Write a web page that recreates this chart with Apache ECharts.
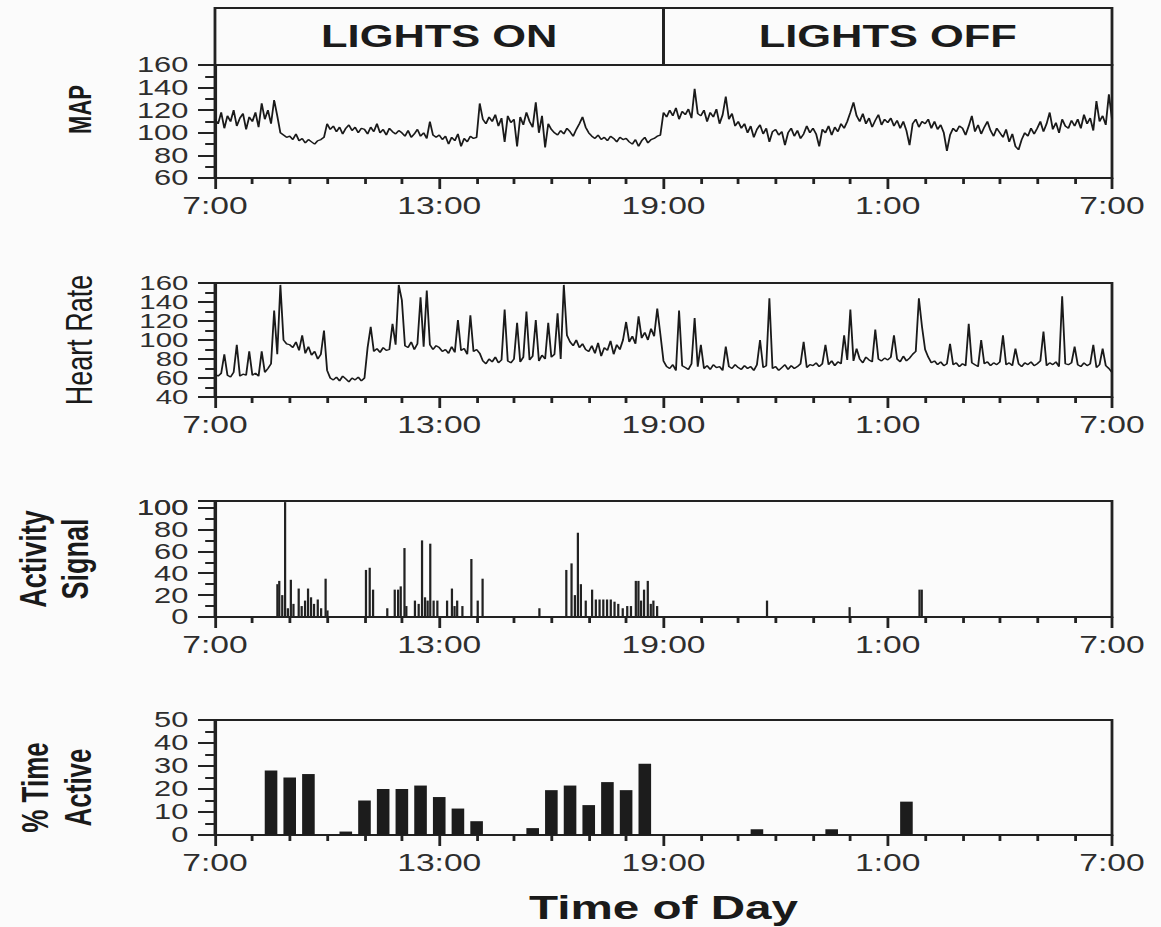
<!DOCTYPE html>
<html>
<head>
<meta charset="utf-8">
<script src="https://cdn.jsdelivr.net/npm/echarts@6/dist/echarts.min.js"></script>
<style>
html,body{margin:0;padding:0;background:#fbfbfb;overflow:hidden;}
#chart{width:829px;height:927px;transform:scaleX(1.4005);transform-origin:0 0;}
</style>
</head>
<body>
<div id="chart"></div>
<script>
// ---------- data ----------
const timeTickLabels = ['7:00', '13:00', '19:00', '1:00', '7:00']; // hours 0,6,12,18,24 after 7:00
const lightPeriods = ['LIGHTS ON', 'LIGHTS OFF'];
const lightBounds = [0, 12, 24];
const mapTicks = [60, 80, 100, 120, 140, 160];
const hrTicks = [40, 60, 80, 100, 120, 140, 160];
const activityTicks = [0, 20, 40, 60, 80, 100];
const pctTicks = [0, 10, 20, 30, 40, 50];
const sampleMinutes = 5;

// MAP, one row per hour (5-min samples), starting 7:00
const mapValues = [
  112,108,118,104,115,110,120,106,113,117,103,114,
  110,118,105,126,112,120,108,129,115,100,98,96,
  97,94,99,93,95,91,94,92,90,93,94,96,
  108,103,106,101,105,99,104,107,102,105,100,104,
  103,99,105,101,108,100,103,98,104,101,99,102,
  100,97,102,96,99,103,97,100,95,110,98,96,
  98,94,97,90,96,93,99,88,95,92,97,95,
  96,126,112,108,114,110,116,106,113,92,115,109,
  112,88,114,107,118,110,105,127,100,115,87,108,
  103,100,98,102,99,104,101,97,103,108,114,105,
  100,97,95,98,94,96,93,97,95,92,96,94,
  95,92,90,94,88,93,96,91,94,95,97,98,
  118,114,120,115,122,112,119,116,121,113,139,117,
  115,120,110,118,114,121,108,116,132,112,117,106,
  110,104,108,100,106,96,103,107,99,104,92,101,
  103,98,101,89,100,104,97,102,95,99,106,100,
  104,99,88,103,100,106,98,105,101,108,104,110,
  118,127,115,110,117,108,113,105,111,116,107,112,
  109,113,106,111,104,110,102,89,108,112,105,110,
  108,112,104,110,103,107,100,84,98,104,101,106,
  104,98,106,115,101,107,99,105,110,102,97,104,
  100,96,103,92,99,88,85,94,100,97,104,99,
  104,110,101,108,118,103,109,100,112,106,104,111,
  106,112,104,116,108,113,102,128,110,115,107,134,
  112
];

// Heart rate, one row per hour (5-min samples), starting 7:00
const heartRateValues = [
  64,62,65,85,63,61,66,95,62,64,63,88,
  63,65,62,88,66,70,75,131,85,158,100,96,
  95,92,98,89,105,86,93,84,88,80,85,110,
  68,60,58,61,57,62,59,56,60,58,61,57,
  60,92,114,88,91,87,92,89,90,117,95,158,
  142,94,92,98,90,96,145,93,152,95,90,94,
  92,88,90,86,93,87,121,89,91,85,126,88,
  90,86,78,75,80,77,82,76,79,132,78,76,
  80,118,77,82,130,79,83,121,78,84,80,118,
  82,85,128,80,158,105,98,94,100,92,96,90,
  88,94,86,97,83,92,89,99,85,95,90,100,
  119,98,104,96,125,102,108,100,112,104,133,106,
  78,72,70,74,68,131,73,71,69,75,123,72,
  95,70,73,69,74,71,72,68,93,72,70,74,
  71,69,73,70,72,68,74,100,71,73,144,70,
  72,68,71,74,69,73,70,72,75,98,71,74,
  73,76,72,75,95,74,78,73,77,75,105,79,
  132,78,91,80,76,82,79,77,111,80,78,81,
  79,82,105,80,77,83,78,81,85,88,144,114,
  90,82,76,78,74,77,73,75,96,74,76,72,
  75,73,117,76,74,72,100,75,77,73,76,74,
  77,105,74,76,73,91,75,72,76,74,77,73,
  75,78,109,73,76,74,77,72,146,75,74,76,
  93,74,72,76,73,75,95,71,74,91,73,70,
  66
];

// Activity signal bursts: hours after 7:00 and amplitude
const activityTimes = [
  1.67,1.72,1.80,1.876,1.95,2.03,2.10,2.24,2.32,2.41,2.49,2.57,2.65,2.75,2.84,2.96,3.01,
  4.04,4.14,4.23,4.61,4.81,4.90,4.97,5.07,5.12,5.35,5.45,5.54,5.62,5.69,5.76,5.85,5.95,
  6.21,6.34,6.41,6.48,6.62,6.86,7.03,7.16,8.68,
  9.40,9.54,9.63,9.71,9.79,9.92,10.09,10.19,10.29,10.39,10.49,10.59,10.69,10.79,10.91,
  11.03,11.13,11.26,11.33,11.40,11.48,11.58,11.66,11.73,11.83,
  14.77,16.98,18.85,18.91
];
const activityValues = [
  30,33,20,105,8,34,12,26,10,15,26,18,12,16,8,35,6,
  43,45,25,8,25,25,28,63,10,15,12,70,18,15,67,15,15,
  15,26,10,15,10,53,15,35,8,
  43,49,20,77,30,15,25,16,16,16,16,16,14,12,8,
  10,10,33,33,15,25,33,12,15,10,
  15,9,25,25
];

// % time active, half-hour bins (hours after 7:00)
const pctTimes = [1.5,2.0,2.5,3.5,4.0,4.5,5.0,5.5,6.0,6.5,7.0,8.5,9.0,9.5,10.0,10.5,11.0,11.5,14.5,16.5,18.5];
const pctValues = [28,25,26.5,1.5,15,20,20,21.5,16.5,11.5,6,3,19.5,21.5,13,23,19.5,31,2.5,2.5,14.5];

// ---------- chart ----------
const FONT = "'Liberation Sans', Arial, Helvetica, sans-serif";
const INK = '#222';
const toPairs = vals => vals.map((v, i) => [i * sampleMinutes / 60, v]);
const zip = (xs, ys) => xs.map((x, i) => [x, ys[i]]);

const gridLeft = 153.5, gridWidth = 640.5;
const panels = [
  { top: 65, height: 113 },
  { top: 283, height: 114 },
  { top: 501, height: 116 },
  { top: 720, height: 115 }
];

const grids = [{ left: gridLeft, width: gridWidth, top: 8, height: 57, show: false, outerBoundsMode: 'none' }]
  .concat(panels.map(p => ({
    left: gridLeft, width: gridWidth, top: p.top, height: p.height,
    show: true, borderColor: INK, borderWidth: 2, backgroundColor: 'transparent',
    outerBoundsMode: 'none', containLabel: false
  })));

const labelStyle = { fontSize: 22, lineHeight: 18, color: '#2e2e2e', fontFamily: FONT, margin: 19, interval: 0, hideOverlap: false };

function xAxisFor(g, extra) {
  return Object.assign({
    type: 'value', gridIndex: g, min: 0, max: 24, interval: 6,
    axisLine: { show: true, onZero: false, lineStyle: { color: INK, width: 2 } },
    axisTick: { show: true, length: 11, lineStyle: { color: INK, width: 2 } },
    minorTick: { show: true, splitNumber: 6, length: 6, lineStyle: { color: INK, width: 2 } },
    splitLine: { show: false }, minorSplitLine: { show: false },
    axisLabel: {
      fontSize: 24, color: '#2e2e2e', fontFamily: FONT, margin: 16, interval: 0,
      showMinLabel: true, showMaxLabel: true, hideOverlap: false,
      formatter: v => { const i = Math.round(v / 6); return Math.abs(v - i * 6) < 1e-6 ? (timeTickLabels[i] || '') : ''; }
    }
  }, extra || {});
}

// main y axis: interior tick labels, ticks, minor ticks, name
function yAxisFor(g, min, max, interval, ticks, name, nameGap, nts, fs) {
  return {
    type: 'value', gridIndex: g, position: 'left', min: min, max: max, interval: interval,
    axisLine: { show: true, onZero: false, lineStyle: { color: INK, width: 2 } },
    axisTick: { show: true, length: 12, lineStyle: { color: INK, width: 2 } },
    minorTick: { show: true, splitNumber: 2, length: 7, lineStyle: { color: INK, width: 2 } },
    splitLine: { show: false }, minorSplitLine: { show: false },
    axisLabel: Object.assign({}, labelStyle, {
      fontSize: fs || labelStyle.fontSize,
      showMinLabel: false, showMaxLabel: false,
      formatter: v => ticks.includes(v) ? String(v) : ''
    }),
    name: name, nameLocation: 'middle', nameRotate: 90, nameGap: nameGap, nameMoveOverlap: false,
    nameTextStyle: Object.assign({ fontFamily: FONT, color: '#1a1a1a' }, nts)
  };
}

// companion y axis on the same grid: end-of-range labels and major ticks
function yEdgeAxisFor(g, min, max, interval, ticks, fs) {
  const ends = [ticks[0], ticks[ticks.length - 1]];
  return {
    type: 'value', gridIndex: g, position: 'left', offset: 0, min: min, max: max, interval: interval,
    axisLine: { show: false },
    axisTick: { show: true, length: 12, lineStyle: { color: INK, width: 2 } },
    minorTick: { show: false },
    splitLine: { show: false }, minorSplitLine: { show: false },
    axisLabel: Object.assign({}, labelStyle, {
      fontSize: fs || labelStyle.fontSize,
      showMinLabel: true, showMaxLabel: true,
      formatter: v => ends.includes(v) ? String(v) : ''
    })
  };
}

const yCfg = [
  [1, 60, 160, 20, mapTicks, 22],
  [2, 40, 160, 20, hrTicks, 21],
  [3, 0, 106, 20, activityTicks, 22],
  [4, 0, 50, 10, pctTicks, 22]
];

const option = {
  animation: false,
  backgroundColor: '#fbfbfb',
  grid: grids,
  xAxis: [
    { type: 'value', gridIndex: 0, min: 0, max: 24, show: false },
    xAxisFor(1), xAxisFor(2), xAxisFor(3),
    xAxisFor(4, {
      name: 'Time of Day', nameLocation: 'middle', nameGap: 55, nameMoveOverlap: false,
      nameTextStyle: { fontFamily: FONT, fontSize: 34, fontWeight: 'bold', color: '#1a1a1a' }
    })
  ],
  yAxis: [
    { type: 'value', gridIndex: 0, min: 0, max: 1, show: false },
    yAxisFor(1, 60, 160, 20, mapTicks, 'MAP', 85, { fontSize: 22, fontWeight: 'bold', padding: [0, 0, 0, 24] }, 22),
    yAxisFor(2, 40, 160, 20, hrTicks, 'Heart Rate', 84, { fontSize: 27 }, 21),
    yAxisFor(3, 0, 106, 20, activityTicks, 'Activity\nSignal', 85, { fontSize: 27, fontWeight: 'bold', lineHeight: 30 }, 22),
    yAxisFor(4, 0, 50, 10, pctTicks, '% Time\nActive', 82, { fontSize: 26, fontWeight: 'bold', lineHeight: 31, padding: [0, 20, 0, 0] }, 22)
  ].concat(yCfg.map(c => yEdgeAxisFor.apply(null, c))),
  series: [
    {
      type: 'line', xAxisIndex: 0, yAxisIndex: 0, data: [[0, 0]], symbol: 'none',
      lineStyle: { opacity: 0 }, silent: true,
      markArea: {
        silent: true,
        itemStyle: { color: 'rgba(0,0,0,0)', borderColor: INK, borderWidth: 2 },
        label: { show: true, position: 'inside', fontFamily: FONT, fontSize: 31, fontWeight: 'bold', color: '#1b1b1b' },
        data: lightPeriods.map((name, i) => [{ name: name, xAxis: lightBounds[i] }, { xAxis: lightBounds[i + 1] }])
      }
    },
    {
      type: 'line', xAxisIndex: 1, yAxisIndex: 1, data: toPairs(mapValues), symbol: 'none',
      lineStyle: { color: '#1a1a1a', width: 1.3 }, clip: true
    },
    {
      type: 'line', xAxisIndex: 2, yAxisIndex: 2, data: toPairs(heartRateValues), symbol: 'none',
      lineStyle: { color: '#1a1a1a', width: 1.3 }, clip: true
    },
    {
      type: 'bar', xAxisIndex: 3, yAxisIndex: 3, data: zip(activityTimes, activityValues),
      barWidth: 1.6, itemStyle: { color: '#222' }
    },
    {
      type: 'bar', xAxisIndex: 4, yAxisIndex: 4, data: zip(pctTimes, pctValues),
      barWidth: 9, itemStyle: { color: '#1c1c1c' }
    }
  ]
};

const chart = echarts.init(document.getElementById('chart'), null, { renderer: 'svg', width: 829, height: 927 });
chart.setOption(option);
</script>
</body>
</html>
